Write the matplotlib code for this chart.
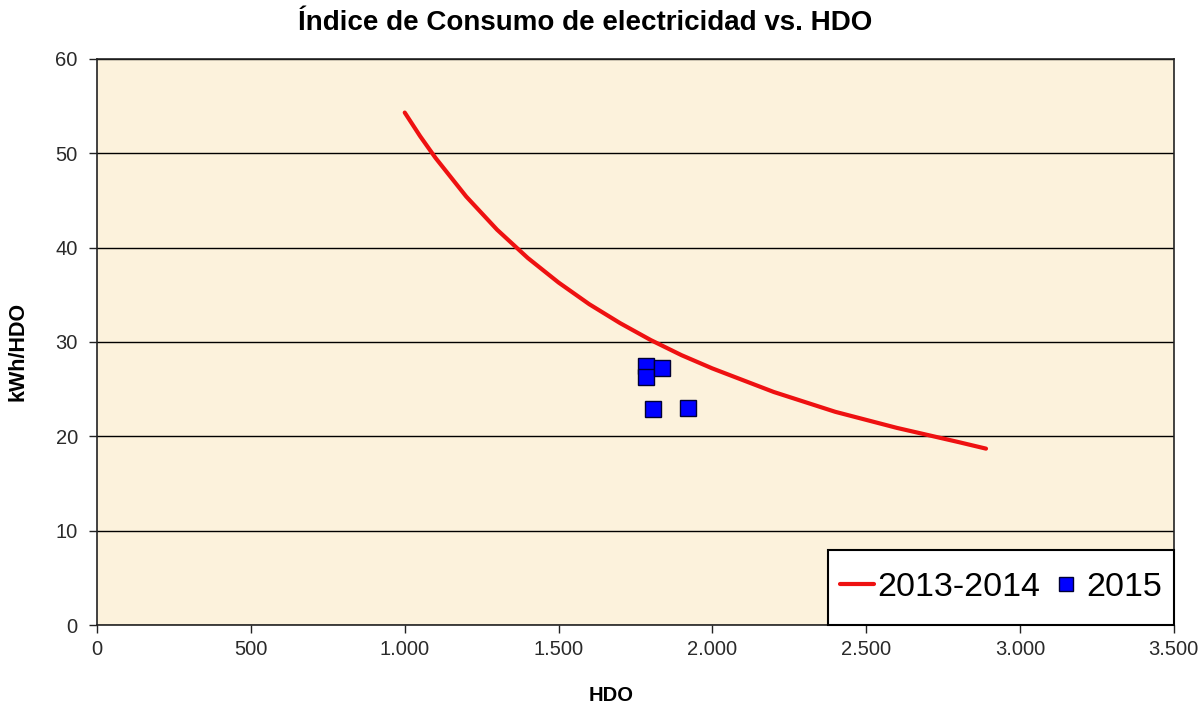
import matplotlib.pyplot as plt
from matplotlib.patches import Rectangle
from matplotlib.ticker import FuncFormatter, MultipleLocator

plt.rcParams['font.family'] = ['Liberation Sans', 'DejaVu Sans']

# Curva de tendencia 2013-2014 (HDO, kWh/HDO)
hdo_tendencia = [1000, 1050, 1100, 1200, 1300, 1400, 1500, 1600, 1700, 1800,
                 1900, 2000, 2200, 2400, 2600, 2800, 2890]
kwh_tendencia = [54.3, 51.8, 49.5, 45.4, 41.9, 38.9, 36.3, 34.0, 32.0, 30.2,
                 28.6, 27.2, 24.7, 22.6, 20.9, 19.4, 18.7]

# Puntos medidos 2015
hdo_2015 = [1784, 1784, 1836, 1807, 1921]
kwh_2015 = [27.5, 26.3, 27.2, 22.9, 23.0]

fig = plt.figure(figsize=(12, 7.08), dpi=100)
ax = fig.add_axes([0.081, 0.117, 0.897, 0.8])
ax.set_facecolor('#FCF2DC')

ax.plot(hdo_tendencia, kwh_tendencia, color='#EE1111', lw=3, label='2013-2014',
        zorder=3, solid_capstyle='round')
ax.plot(hdo_2015, kwh_2015, ls='none', marker='s', markersize=11.5,
        markerfacecolor='#0000FF', markeredgecolor='#000033', markeredgewidth=1,
        label='2015', zorder=4)

ax.set_xlim(0, 3500)
ax.set_ylim(0, 60)
ax.xaxis.set_major_locator(MultipleLocator(500))
ax.yaxis.set_major_locator(MultipleLocator(10))
ax.xaxis.set_major_formatter(FuncFormatter(lambda v, p: f'{int(v):,}'.replace(',', '.')))
ax.yaxis.grid(True, color='black', lw=1)
ax.set_axisbelow(True)
for s in ax.spines.values():
    s.set_color('#222222')
    s.set_linewidth(1.2)
ax.tick_params(axis='both', direction='out', length=6, width=1, labelsize=14.5,
               labelcolor='#2a2a2a', color='#222222')
ax.tick_params(axis='x', pad=5)
ax.tick_params(axis='y', pad=8)

# título y rótulos de ejes colocados sobre la figura
fig.text(0.488, 0.968, 'Índice de Consumo de electricidad vs. HDO', fontsize=20,
         fontweight='bold', ha='center', va='center')
fig.text(0.509, 0.018, 'HDO', fontsize=14.5, fontweight='bold',
         ha='center', va='center')
fig.text(0.015, 0.503, 'kWh/HDO', fontsize=15.5, fontweight='bold',
         ha='center', va='center', rotation=90)

# caja de la leyenda: más alta que ancha de relleno, se dibuja aparte
caja = (0.679, 0.0, 0.321, 0.132)
ax.add_patch(Rectangle(caja[:2], caja[2], caja[3], transform=ax.transAxes,
                       facecolor='white', edgecolor='black', lw=1.5,
                       zorder=4.5, clip_on=False))
ax.legend(loc='center', bbox_to_anchor=caja, borderaxespad=0, borderpad=0,
          fontsize=24.5, frameon=False, ncol=2, handlelength=1.0,
          handletextpad=0.1, columnspacing=0.25, markerscale=0.85)

fig.savefig('out.png', dpi=100)
